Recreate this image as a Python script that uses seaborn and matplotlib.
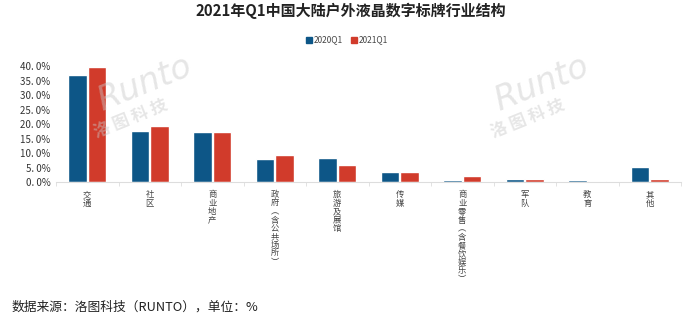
import matplotlib
matplotlib.use("Agg")
import matplotlib.pyplot as plt
import seaborn as sns
import pandas as pd
import numpy as np
from matplotlib.ticker import FuncFormatter, FixedLocator

categories = ["交通", "社区", "商业地产", "政府（含公共场所）", "旅游及展馆", "传媒",
              "商业零售（含餐饮娱乐）", "军队", "教育", "其他"]
series_names = ["2020Q1", "2021Q1"]
values_2020 = [37.2, 17.6, 17.3, 8.0, 8.4, 3.6, 0.7, 1.0, 0.6, 5.3]
values_2021 = [40.0, 19.3, 17.3, 9.3, 5.9, 3.3, 2.1, 1.1, 0.3, 1.1]
colors = ["#0d5687", "#d13b2b"]

df = pd.DataFrame({
    "cat": categories * 2,
    "series": [series_names[0]] * len(categories) + [series_names[1]] * len(categories),
    "val": values_2020 + values_2021,
})

sns.set_theme(style="white")
plt.rcParams['font.family'] = ['Noto Sans CJK SC', 'DejaVu Sans']

fig = plt.figure(figsize=(6.86, 3.22), dpi=100)
ax = fig.add_axes([56/686, 1 - 182/322, (681-56)/686, (182-66.5)/322])

sns.barplot(data=df, x="cat", y="val", hue="series", order=categories,
            hue_order=series_names, palette=colors, width=0.62, gap=0.06,
            saturation=1, ax=ax, legend=False)

ax.set_xlim(-0.5, len(categories) - 0.5)
ax.set_ylim(0, 40)
ax.set_yticks(np.arange(0, 41, 5))
ax.yaxis.set_major_formatter(FuncFormatter(lambda v, p: f"{v:.1f}".replace(".", ". ") + "%"))
ax.tick_params(axis="y", labelsize=7, colors="#333333", length=0, pad=4)
ax.set_xlabel("")
ax.set_ylabel("")

def vert(s):
    s = s.replace("（", "︵").replace("）", "︶")
    return "\n".join(list(s))

ax.set_xticks(range(len(categories)))
ax.set_xticklabels([vert(c) for c in categories], fontsize=6, color="#444444",
                   linespacing=0.92, va="top")
ax.tick_params(axis="x", length=0, pad=6)
ax.xaxis.set_minor_locator(FixedLocator(np.arange(-0.5, len(categories), 1)))
ax.tick_params(axis="x", which="minor", length=3, color="#dddddd", width=0.6, bottom=True)

for s in ["top", "right", "left"]:
    ax.spines[s].set_visible(False)
ax.spines["bottom"].set_color("#dddddd")
ax.spines["bottom"].set_linewidth(0.8)

# watermarks
for (x, y) in [(0.21, 0.74), (0.79, 0.74)]:
    fig.text(x, y, "Runto", fontsize=24, color="#c8c8c8", alpha=0.45, rotation=22,
             ha="center", va="center", style="italic", family="DejaVu Sans", zorder=5)
    fig.text(x - 0.02, y - 0.11, "洛 图 科 技", fontsize=12, color="#c8c8c8", alpha=0.45,
             rotation=22, ha="center", va="center", fontweight="bold", zorder=5)

fig.text(351/686, 1 - 11/322, "2021年Q1中国大陆户外液晶数字标牌行业结构", ha="center", va="center",
         fontsize=10.8, fontweight="bold", color="#222222")

# legend
handles = [plt.Rectangle((0, 0), 1, 1, color=c) for c in colors]
fig.legend(handles, series_names, loc="center", bbox_to_anchor=(347/686, 1 - 40/322),
           ncol=2, frameon=False, fontsize=6, handlelength=0.7, handleheight=0.7,
           handletextpad=0.3, columnspacing=0.9, labelcolor="#444444")

fig.text(12/686, 1 - 307/322, "数据来源：洛图科技（RUNTO），单位：%", ha="left", va="center",
         fontsize=9.2, color="#222222")

fig.savefig("out.png", dpi=100, facecolor="white")
